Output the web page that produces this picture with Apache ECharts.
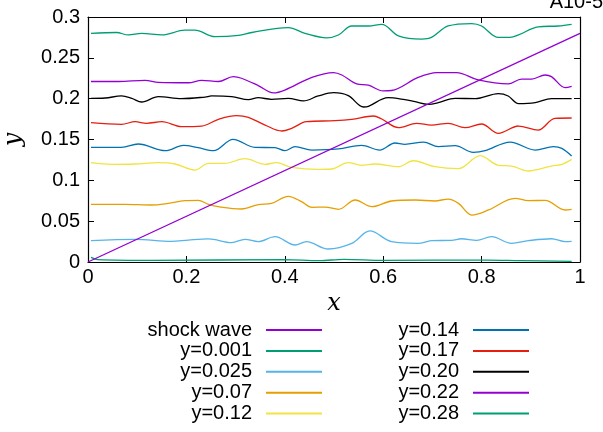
<!DOCTYPE html>
<html>
<head>
<meta charset="utf-8">
<script src="https://cdn.jsdelivr.net/npm/echarts@6/dist/echarts.min.js"></script>
<style>
  html, body { margin: 0; padding: 0; background: #fff; }
  #chart { width: 603px; height: 432px; }
</style>
</head>
<body>
<div id="chart"></div>
<script>
// tick labels
var xTicks = [0, 0.2, 0.4, 0.6, 0.8, 1];
var xTickLabels = ['0', '0.2', '0.4', '0.6', '0.8', '1'];
var yTicks = [0, 0.05, 0.1, 0.15, 0.2, 0.25, 0.3];
var yTickLabels = ['0', '0.05', '0.1', '0.15', '0.2', '0.25', '0.3'];

// series names
var names = ['shock wave', 'y=0.001', 'y=0.025', 'y=0.07', 'y=0.12',
             'y=0.14', 'y=0.17', 'y=0.20', 'y=0.22', 'y=0.28'];

// [x, value] pairs
var shockWave = [[0, 0], [1, 0.28]];
var s0001 = [[0.006,0.0057],[0.02,0.0029],[0.13,0.0020],[0.40,0.0029],[0.47,0.0016],[0.52,0.0033],
  [0.60,0.0020],[0.81,0.0024],[0.88,0.0016],[0.983,0.0008]];
var s0025 = [[0.006,0.0261],[0.096,0.0278],[0.170,0.0253],[0.204,0.0269],[0.245,0.0282],[0.292,0.0237],
  [0.319,0.0278],[0.346,0.0249],[0.380,0.0310],[0.421,0.0208],[0.444,0.0249],[0.488,0.0159],
  [0.536,0.0228],[0.573,0.0380],[0.617,0.0249],[0.671,0.0228],[0.698,0.0261],[0.739,0.0265],
  [0.759,0.0285],[0.790,0.0265],[0.820,0.0310],[0.861,0.0228],[0.895,0.0261],[0.942,0.0285],
  [0.970,0.0249],[0.983,0.0253]];
var s007 = [[0.006,0.0706],[0.075,0.0706],[0.129,0.0698],[0.163,0.0718],[0.197,0.0751],[0.224,0.0755],
  [0.245,0.0706],[0.265,0.0677],[0.312,0.0649],[0.346,0.0702],[0.373,0.0718],[0.407,0.0804],
  [0.434,0.0739],[0.455,0.0669],[0.482,0.0673],[0.509,0.0645],[0.543,0.0759],[0.577,0.0677],
  [0.617,0.0747],[0.665,0.0759],[0.705,0.0747],[0.732,0.0771],[0.753,0.0718],[0.780,0.0575],
  [0.814,0.0637],[0.868,0.0780],[0.895,0.0751],[0.929,0.0755],[0.970,0.0637],[0.983,0.0645]];
var s012 = [[0.006,0.1216],[0.048,0.1196],[0.096,0.1200],[0.143,0.1216],[0.177,0.1200],[0.217,0.1126],
  [0.245,0.1208],[0.278,0.1208],[0.319,0.1265],[0.360,0.1196],[0.383,0.1216],[0.414,0.1159],
  [0.468,0.1135],[0.495,0.1139],[0.529,0.1216],[0.556,0.1184],[0.583,0.1200],[0.631,0.1167],
  [0.661,0.1240],[0.705,0.1167],[0.753,0.1143],[0.797,0.1302],[0.834,0.1184],[0.861,0.1175],
  [0.895,0.1114],[0.942,0.1175],[0.963,0.1196],[0.983,0.1257]];
var s014 = [[0.006,0.1404],[0.068,0.1404],[0.102,0.1445],[0.157,0.1363],[0.194,0.1428],[0.224,0.1400],
  [0.255,0.1363],[0.295,0.1502],[0.339,0.1404],[0.380,0.1400],[0.400,0.1363],[0.421,0.1412],
  [0.455,0.1371],[0.509,0.1384],[0.556,0.1428],[0.593,0.1371],[0.624,0.1457],[0.644,0.1441],
  [0.682,0.1469],[0.712,0.1412],[0.746,0.1424],[0.783,0.1343],[0.807,0.1363],[0.858,0.1469],
  [0.909,0.1371],[0.946,0.1412],[0.963,0.1392],[0.983,0.1298]];
var s017 = [[0.006,0.1706],[0.068,0.1686],[0.096,0.1718],[0.119,0.1698],[0.150,0.1718],[0.190,0.1657],
  [0.231,0.1665],[0.265,0.1747],[0.302,0.1792],[0.326,0.1772],[0.360,0.1677],[0.394,0.1604],
  [0.414,0.1637],[0.444,0.1718],[0.502,0.1730],[0.536,0.1747],[0.580,0.1788],[0.597,0.1751],
  [0.631,0.1645],[0.668,0.1698],[0.698,0.1677],[0.732,0.1698],[0.766,0.1645],[0.800,0.1690],
  [0.834,0.1576],[0.875,0.1665],[0.915,0.1616],[0.949,0.1759],[0.983,0.1763]];
var s020 = [[0.006,0.2004],[0.035,0.2008],[0.068,0.2033],[0.089,0.2004],[0.109,0.1959],[0.143,0.2025],
  [0.190,0.2000],[0.238,0.2020],[0.251,0.2033],[0.292,0.2025],[0.326,0.1988],[0.346,0.2012],
  [0.373,0.1992],[0.407,0.2004],[0.438,0.1972],[0.468,0.2033],[0.499,0.2073],[0.529,0.2037],
  [0.560,0.1898],[0.570,0.1906],[0.610,0.2012],[0.644,0.1988],[0.665,0.1963],[0.692,0.1931],
  [0.712,0.1951],[0.746,0.2004],[0.787,0.2000],[0.834,0.2061],[0.854,0.2033],[0.875,0.1939],
  [0.909,0.1951],[0.942,0.2000],[0.983,0.2000]];
var s022 = [[0.006,0.2210],[0.062,0.2210],[0.116,0.2225],[0.143,0.2200],[0.204,0.2195],[0.231,0.2225],
  [0.265,0.2210],[0.295,0.2270],[0.312,0.2250],[0.346,0.2160],[0.377,0.2070],[0.400,0.2105],
  [0.455,0.2260],[0.499,0.2320],[0.516,0.2290],[0.546,0.2180],[0.570,0.2165],[0.600,0.2095],
  [0.617,0.2100],[0.671,0.2260],[0.709,0.2320],[0.749,0.2320],[0.793,0.2230],[0.854,0.2180],
  [0.881,0.2240],[0.902,0.2240],[0.929,0.2290],[0.942,0.2270],[0.970,0.2135],[0.983,0.2150]];
var s028 = [[0.006,0.2800],[0.058,0.2810],[0.082,0.2780],[0.109,0.2800],[0.150,0.2780],[0.197,0.2840],
  [0.217,0.2840],[0.258,0.2760],[0.306,0.2775],[0.333,0.2810],[0.407,0.2870],[0.441,0.2800],
  [0.485,0.2745],[0.509,0.2780],[0.536,0.2890],[0.570,0.2890],[0.597,0.2910],[0.631,0.2770],
  [0.678,0.2730],[0.698,0.2750],[0.732,0.2890],[0.780,0.2920],[0.800,0.2890],[0.834,0.2750],
  [0.858,0.2750],[0.875,0.2780],[0.915,0.2880],[0.956,0.2890],[0.983,0.2910]];

var seriesData = [shockWave, s0001, s0025, s007, s012, s014, s017, s020, s022, s028];
var colors = ['#9400d3', '#009e73', '#56b4e9', '#e69f00', '#f0e442',
              '#0072b2', '#e51e10', '#000000', '#9400d3', '#009e73'];

var font = 'Liberation Sans, Arial, sans-serif';

function tickText(ticks, labels) {
  return function (v) {
    for (var i = 0; i < ticks.length; i++) {
      if (Math.abs(ticks[i] - v) < 1e-9) return labels[i];
    }
    return '';
  };
}

var frameLine = { show: true, onZero: false, lineStyle: { color: '#000', width: 1.2 } };
var tick = { show: true, inside: true, length: 6, lineStyle: { color: '#000', width: 1 } };

var legendBase = {
  orient: 'vertical',
  align: 'right',
  top: 320,
  padding: 0,
  itemGap: 0.9,
  itemWidth: 56,
  itemHeight: 2,
  icon: 'rect',
  selectedMode: false,
  textStyle: { fontFamily: font, fontSize: 20, color: '#000', lineHeight: 20, padding: [0, 9, 0, 0] }
};

var chart = echarts.init(document.getElementById('chart'), null, { renderer: 'canvas' });

chart.setOption({
  animation: false,
  backgroundColor: '#fff',
  grid: { left: 88, right: 23, top: 17, bottom: 170, containLabel: false, outerBoundsMode: 'none' },
  graphic: [{
    type: 'text',
    right: 0,
    top: -8,
    style: { text: 'A10-5', fontFamily: font, fontSize: 20, fill: '#000' }
  }],
  legend: [
    Object.assign({}, legendBase, { right: 281, data: names.slice(0, 5) }),
    Object.assign({}, legendBase, { right: 74, data: names.slice(5) })
  ],
  xAxis: [{
    type: 'value', position: 'bottom', min: 0, max: 1, interval: 0.2,
    axisLine: frameLine, axisTick: tick, splitLine: { show: false },
    axisLabel: { margin: 5, fontFamily: font, fontSize: 20, color: '#000', formatter: tickText(xTicks, xTickLabels) },
    name: 'x', nameLocation: 'middle', nameGap: 22,
    nameTextStyle: { fontFamily: 'DejaVu Serif, serif', fontStyle: 'italic', fontSize: 24, color: '#000' }
  }, {
    type: 'value', position: 'top', min: 0, max: 1, interval: 0.2,
    axisLine: frameLine, axisTick: tick, splitLine: { show: false }, axisLabel: { show: false }
  }],
  yAxis: [{
    type: 'value', position: 'left', min: 0, max: 0.3, interval: 0.05,
    axisLine: frameLine, axisTick: tick, splitLine: { show: false },
    axisLabel: { margin: 8, fontFamily: font, fontSize: 20, color: '#000', formatter: tickText(yTicks, yTickLabels) },
    name: 'y', nameLocation: 'middle', nameGap: 62, nameRotate: 90,
    nameTextStyle: { fontFamily: 'DejaVu Serif, serif', fontStyle: 'italic', fontSize: 24, color: '#000' }
  }, {
    type: 'value', position: 'right', min: 0, max: 0.3, interval: 0.05,
    axisLine: frameLine, axisTick: tick, splitLine: { show: false }, axisLabel: { show: false }
  }],
  series: names.map(function (n, i) {
    return {
      name: n,
      type: 'line',
      data: seriesData[i],
      smooth: i === 0 ? false : 0.35,
      showSymbol: false,
      symbol: 'none',
      color: colors[i],
      lineStyle: { color: colors[i], width: 1.3 },
      itemStyle: { color: colors[i] },
      z: i === 0 ? 3 : 2
    };
  })
});
</script>
</body>
</html>
